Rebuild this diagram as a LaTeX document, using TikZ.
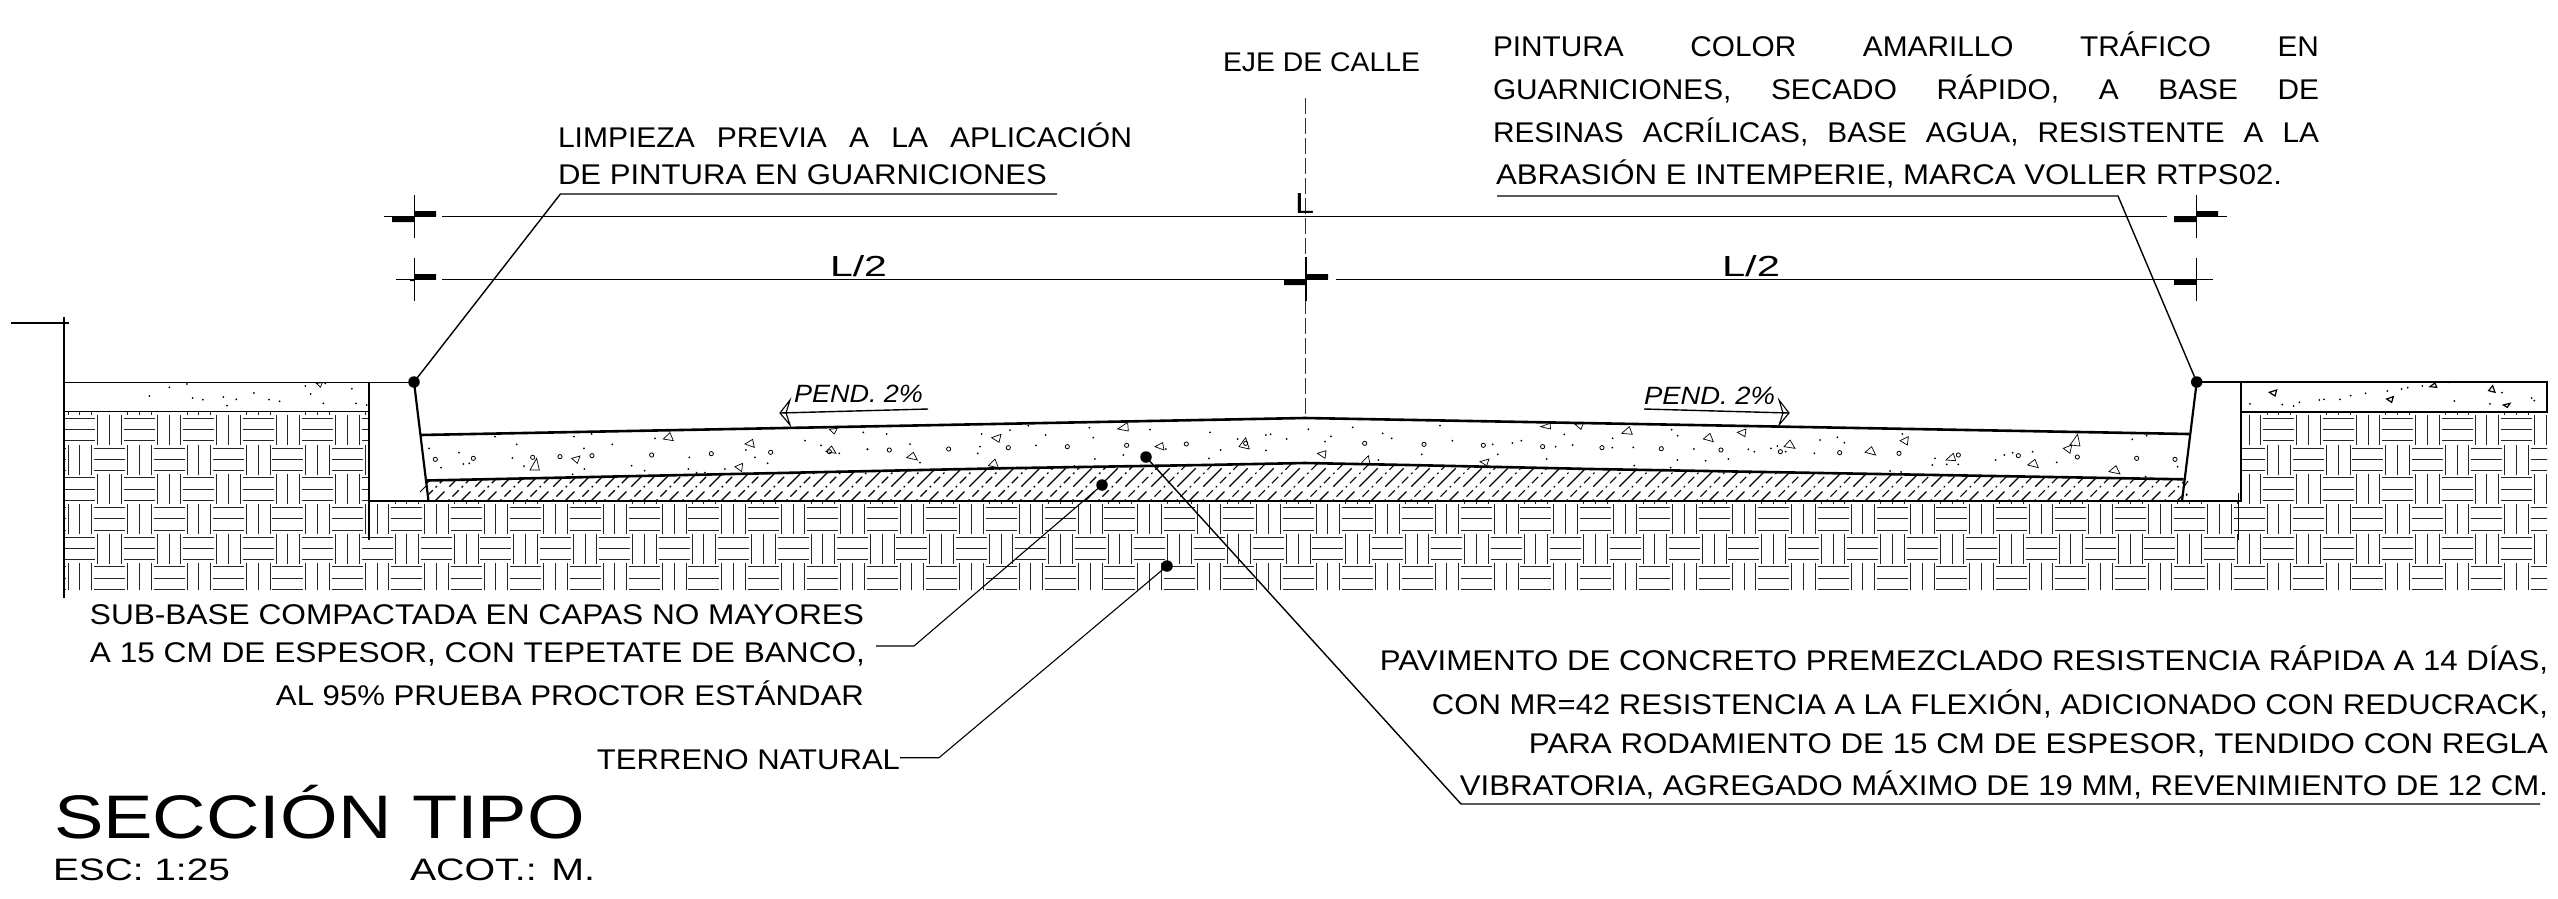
\documentclass[tikz,border=0pt]{standalone}
\usepackage{graphicx}
\usepackage{fontspec}
\setmainfont{Liberation Sans}
\newcommand\fitw[3]{\resizebox{#1pt}{\height}{\fontsize{#2}{#2}\selectfont #3}}
\newcommand\just[3]{\resizebox{#1pt}{\height}{\fontsize{28.5}{30}\selectfont\hbox to #2pt{#3}}}
\tikzset{
  txt/.style={inner sep=0pt,outer sep=0pt,anchor=base west},
  txtr/.style={inner sep=0pt,outer sep=0pt,anchor=base east},
  thinl/.style={line width=1pt},
  lead/.style={line width=1.4pt},
  heavy/.style={line width=2.6pt},
  curb/.style={line width=1.8pt},
  dotn/.style={circle,fill=black,inner sep=0pt,minimum size=11.5pt},
  bar/.style={fill=black},
  hatcha/.style={line width=1.3pt,dash pattern=on 26pt off 7pt},
  hatchb/.style={line width=1.1pt,dash pattern=on 9pt off 4pt on 2pt off 4pt},
  sc3/.style={x=0.3333pt,y=-0.3333pt},
  sc2/.style={x=0.40816pt,y=-0.3333pt},
  grain/.style={line width=.7pt},
  graind/.style={line width=1.2pt}
}
\newcommand\specks[1]{\foreach \a/\b in {#1} \fill (\a,\b) circle (1pt);}
\newcommand\rings[1]{\foreach \a/\b in {#1} \draw[line width=.8pt] (\a,\b) circle (2.1pt);}
\newcommand\tris[2]{\foreach \a/\b/\c/\d/\e/\f in {#2} \draw[#1] (\a,\b)--(\c,\d)--(\e,\f)--cycle;}
\begin{document}
\begin{tikzpicture}[x=1pt,y=-1pt]
\useasboundingbox (0,0) rectangle (2558,898);
\fill[white] (0,0) rectangle (2558,898);
% terreno natural pattern
\begin{scope}
\clip (64,412)--(369,412)--(369,501)--(2241,501)--(2241,412)--(2547,412)--(2547,590)--(64,590)--cycle;
\foreach \n in {-1,...,5}{
  \pgfmathsetmacro\top{414.9+29.7*\n}
  \pgfmathsetmacro\off{mod(\n+2,2)*(-29.7)}
  \foreach \k in {-1,...,42}{
    \pgfmathsetmacro\cx{109.6+\off+59.43*\k}
    \draw[line width=.9pt,black!85]
      (\cx-11.8,\top)--(\cx-11.8,\top+30)
      (\cx,\top)--(\cx,\top+30)
      (\cx+11.8,\top)--(\cx+11.8,\top+30)
      (\cx+14.2,\top+3.5)--(\cx+45.2,\top+3.5)
      (\cx+14.2,\top+14.7)--(\cx+45.2,\top+14.7)
      (\cx+14.2,\top+26)--(\cx+45.2,\top+26);
  }
}
\end{scope}
% sub-base hatch
\begin{scope}
\clip (426.7,480.5)--(1000,468.3)--(1204,465)--(1305,463)--(1408,465)--(1592,469)--(2183.5,479.3)--(2182,501)--(428.5,501)--cycle;
\foreach \i in {0,...,75}{
  \pgfmathsetmacro\xa{400+26*\i}
  \pgfmathsetmacro\xb{413+26*\i}
  \draw[hatcha] (\xa,510)--(\xa+60,450);
  \draw[hatchb] (\xb,510)--(\xb+60,450);
}
\end{scope}
\draw[line width=1pt] (420,492)--(426,486) (2183,488)--(2188,481);
% concrete aggregate
\begin{scope}[shift={(420,420)},sc3]
\rings{46/118,160/115,338/112,420/110,516/107,695/105,874/101,1052/97,1228/95}
\tris{grain}{330/150/358/150/350/115,455/115/480/108/472/130,730/57/750/38/760/62,975/72/998/58/1003/82,945/140/968/130/965/155,1218/95/1235/78/1248/100,1228/28/1252/25/1243/42}
\specks{225/50,462/50,515/42,290/73,27/85,117/98,577/73,492/85,705/55,130/132,148/130,63/143,277/114,312/138,458/163,493/147,635/137,674/152,808/112,805/147,830/158,855/158,915/147,978/90,1005/112,1043/130,1155/62,1203/76,1258/100,1343/88,1330/37}
\end{scope}
\begin{scope}[shift={(860,415)},sc3]
\rings{88/105,266/102,445/98,622/95,800/91,979/87,1157/85}
\tris{grain}{395/68/423/58/417/82,140/128/160/112/172/135,385/152/405/132/415/158,773/42/803/22/805/48,885/95/908/83/912/105,1137/95/1157/68/1168/102}
\specks{80/57,22/103,150/87,180/143,365/57,360/95,353/115,450/45,505/32,557/60,528/91,688/38,700/68,705/132,790/120,870/44,918/102,1050/52,1082/105,1047/130,1133/72,1218/60,1232/58,1280/72,1218/106,643/153}
\end{scope}
\begin{scope}[shift={(1300,415)},sc3]
\rings{194/85,372/88,550/91,728/95,906/98,1084/101,1263/105}
\tris{grain}{52/115/78/107/75/130,183/145/205/122/210/148,540/140/567/132/560/152,722/35/750/25/752/42,825/28/850/25/843/43,965/55/988/35/997/58,1210/72/1230/55/1240/80,1312/52/1338/42/1335/65}
\specks{25/43,158/37,248/55,93/64,275/70,75/80,235/135,420/32,365/118,457/77,578/88,593/118,637/84,664/77,767/95,740/132,793/58,818/90,938/70,937/98,1000/97,1115/44,1133/62,1182/102,1132/135,1217/137,1285/132,1003/152,1112/158}
\end{scope}
\begin{scope}[shift={(1745,420)},sc3]
\rings{106/95,284/98,462/100,640/105,820/107,997/111,1175/115,1290/118}
\tris{grain}{117/80/135/60/150/85,360/97/380/80/392/105,465/62/490/50/487/75,603/120/625/100/632/122,848/135/870/118/880/143,975/75/998/43/1005/78,955/85/980/75/975/100,1092/155/1113/137/1125/162}
\specks{10/88,28/95,78/85,97/78,122/95,225/60,277/52,298/68,208/100,472/42,570/115,562/135,605/133,640/133,752/120,778/105,803/98,863/95,935/127,1162/58,1205/47,1298/140,435/153,468/156,1202/170,1325/225}
\end{scope}
% slab aggregate
\begin{scope}[shift={(0,300)},sc2]
\specks{415/262,458/252,366/288,472/294,497/299,547/291,579/298,622/279,659/299,685/304,556/317,748/258,761/282,862/266,792/310,872/310,898/315,797/250}
\tris{grain}{775/250/790/248/785/262}
\end{scope}
\begin{scope}[shift={(2050,180)},sc3]
\specks{600/672,697/674,731/678,748/667,808/660,822/658,870/658,902/647,947/640,1012/633,1055/627,1073/623,1117/618,1196/607,1213/663,1320/672,1356/638,1445/654,1453/662,410/943}
\tris{graind}{658/637/680/630/675/648,1010/657/1030/650/1025/667,1140/620/1155/609/1160/622,1316/632/1328/617/1335/637,1360/675/1380/670/1372/682}
\end{scope}
% axis
\draw[line width=1pt,black!80,dash pattern=on 16pt off 4pt] (1305,98)--(1305,418);
% site outlines
\draw[line width=1.2pt] (64,317)--(64,598);
\draw[line width=1.2pt] (11,323)--(69,323);
\draw[curb,line width=1.3pt] (64,382.7) rectangle (369,411.7);
\draw[curb,line width=1.3pt] (2241,382) rectangle (2547,412);
\draw[line width=1.2pt] (369,501)--(369,540);
\draw[line width=1.2pt] (2238.7,493)--(2238.7,540);
\draw[curb] (369,501)--(369,382.5)--(414,382.5);
\draw[curb] (369,501)--(428.5,501);
\draw[curb] (2196.7,382)--(2241,382)--(2241,501)--(2182,501);
\draw[line width=1.3pt] (428.5,501)--(2182,501);
\draw[line width=2.2pt] (414,382)--(428.5,501);
\draw[line width=2.2pt] (2196.7,382)--(2182,501);
% road
\draw[heavy] (420.4,435)--(1305,418)--(2189,434);
\draw[heavy] (426.7,480.5)--(1000,468.3)--(1204,465)--(1305,463)--(1408,465)--(1592,469)--(2183.5,479.3);
% dimensions
\draw[thinl] (414,195)--(414,238) (414,258)--(414,301);
\draw[thinl] (2196.7,195)--(2196.7,238) (2196.7,258)--(2196.7,301);
\draw[line width=1.3pt] (1306,257)--(1306,301);
\draw[line width=1.4pt] (442,216.7)--(2167,216.7);
\draw[thinl] (384,216.7)--(436,216.7) (2174,216.7)--(2226.7,216.7);
\draw[line width=1.4pt] (442,279.3)--(1274,279.3) (1336,279.3)--(2167,279.3);
\draw[thinl] (396,279.3)--(436,279.3) (1274,279.3)--(1328,279.3) (2167,279.3)--(2213,279.3);
\fill[bar] (392,216.7) rectangle (414,222) (414,211) rectangle (436,216.7);
\fill[bar] (2174,216.7) rectangle (2196.7,222) (2196.7,211) rectangle (2218,216.7);
\fill[bar] (414,274) rectangle (436,279.3) (410,279.3) rectangle (414,281);
\fill[bar] (1284,279.3) rectangle (1306,285) (1306,274) rectangle (1328,279.3);
\fill[bar] (2174,279.3) rectangle (2196.7,285);
% slope arrows
\coordinate (pl) at (928,409);
\coordinate (pltip) at (780,413);
\coordinate (pr) at (1644,409);
\coordinate (prtip) at (1789,413);
\draw[lead] (pl)--(pltip);
\draw[line width=1.1pt] (790,400)--(pltip)--(790,425)--(786,413)--cycle;
\draw[lead] (pr)--(prtip);
\draw[line width=1.1pt] (1779,400)--(prtip)--(1779,425)--(1783,413)--cycle;
% text
\node[txt] (peL) at (794,402.7) {\fitw{129}{25}{\itshape PEND. 2\%}};
\node[txt] (peR) at (1644,404) {\fitw{131}{25}{\itshape PEND. 2\%}};
\node[txt] (lt) at (1295,213) {\fitw{19}{29}{L}};
\node[txt] (l2a) at (830,276) {\fitw{57}{29}{L/2}};
\node[txt] (l2b) at (1722,276) {\fitw{58}{29}{L/2}};
\node[txt] (eje) at (1223,71) {\fitw{197}{27}{EJE DE CALLE}};
\node[txt] (p1) at (1493,56) {\just{826}{790}{PINTURA\hfill COLOR\hfill AMARILLO\hfill TRÁFICO\hfill EN}};
\node[txt] (p2) at (1493,99) {\just{826}{790}{GUARNICIONES,\hfill SECADO\hfill RÁPIDO,\hfill A\hfill BASE\hfill DE}};
\node[txt] (p3) at (1493,142) {\just{826}{790}{RESINAS\hfill ACRÍLICAS,\hfill BASE\hfill AGUA,\hfill RESISTENTE\hfill A\hfill LA}};
\node[txt] (p4) at (1496,184) {\fitw{786}{28.5}{ABRASIÓN E INTEMPERIE, MARCA VOLLER RTPS02.}};
\node[txt] (q1) at (558,147) {\just{574}{545}{LIMPIEZA\hfill PREVIA\hfill A\hfill LA\hfill APLICACIÓN}};
\node[txt] (q2) at (558,184) {\fitw{489}{28.5}{DE PINTURA EN GUARNICIONES}};
\node[txtr] (s1) at (864,624) {\fitw{774}{28.5}{SUB-BASE COMPACTADA EN CAPAS NO MAYORES}};
\node[txtr] (s2) at (865,662) {\fitw{775}{28.5}{A 15 CM DE ESPESOR, CON TEPETATE DE BANCO,}};
\node[txtr] (s3) at (864,705) {\fitw{588}{28.5}{AL 95\% PRUEBA PROCTOR ESTÁNDAR}};
\node[txtr] (tn) at (900,769) {\fitw{303}{28.5}{TERRENO NATURAL}};
\node[txtr] (v1) at (2548,670) {\fitw{1168}{28.5}{PAVIMENTO DE CONCRETO PREMEZCLADO RESISTENCIA RÁPIDA A 14 DÍAS,}};
\node[txtr] (v2) at (2548,714) {\fitw{1116}{28.5}{CON MR=42 RESISTENCIA A LA FLEXIÓN, ADICIONADO CON REDUCRACK,}};
\node[txtr] (v3) at (2548,753) {\fitw{1019}{28.5}{PARA RODAMIENTO DE 15 CM DE ESPESOR, TENDIDO CON REGLA}};
\node[txtr] (v4) at (2548,795) {\fitw{1088}{28.5}{VIBRATORIA, AGREGADO MÁXIMO DE 19 MM, REVENIMIENTO DE 12 CM.}};
\node[txt] (title) at (54,838) {\fitw{531}{61.5}{SECCIÓN TIPO}};
\node[txt] (esc) at (53,880.7) {\fitw{177}{31}{ESC: 1:25}};
\node[txt] (acot) at (410,880.7) {\fitw{185}{31}{ACOT.: M.}};
% leaders
\node[dotn] (d1) at (414,382) {};
\node[dotn] (d2) at (2196.7,382) {};
\node[dotn] (d3) at (1146,457) {};
\node[dotn] (d4) at (1102,485) {};
\node[dotn] (d5) at (1167,566) {};
\coordinate (a1) at (560.4,194);
\coordinate (a1e) at (1057,194);
\coordinate (a2) at (2118,196);
\coordinate (a2e) at (1497,196);
\coordinate (a3) at (1461,804);
\coordinate (a3e) at (2540,804);
\coordinate (a4) at (914,646);
\coordinate (a4e) at (876,646);
\coordinate (a5) at (939,757.7);
\coordinate (a5e) at (900,757.7);
\draw[lead] (d1.center)--(a1)--(a1e);
\draw[lead] (d2.center)--(a2)--(a2e);
\draw[lead] (d3.center)--(a3)--(a3e);
\draw[line width=1.1pt] (d4.center)--(a4)--(a4e);
\draw[line width=1.1pt] (d5.center)--(a5)--(a5e);
\end{tikzpicture}
\end{document}
